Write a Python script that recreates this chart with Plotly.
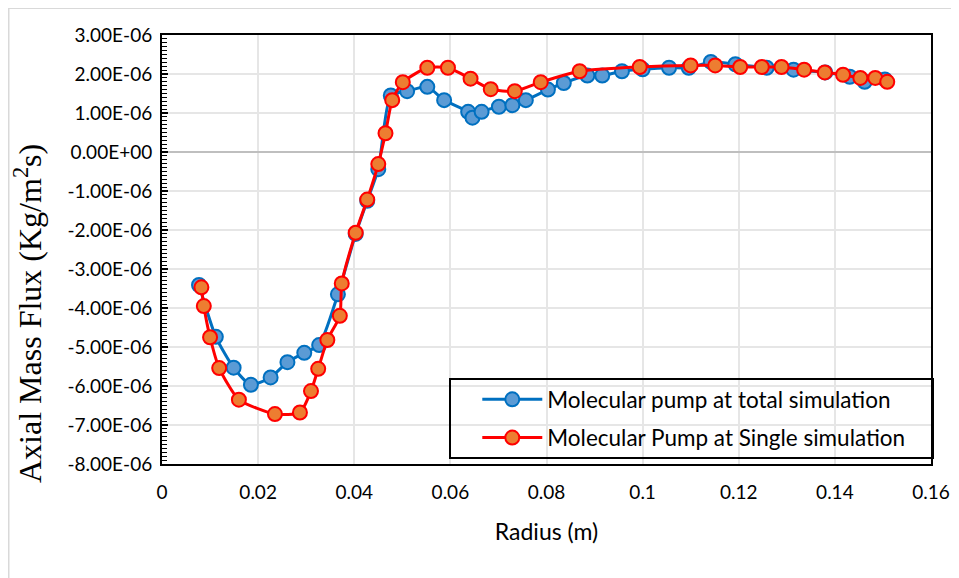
import plotly.graph_objects as go

# ---- data ----
radius_total = [0.0077, 0.0112, 0.0149, 0.0185, 0.0226, 0.0261, 0.0296, 0.0327, 0.0366,
                0.0403, 0.0427, 0.0450, 0.0476, 0.0510, 0.0552, 0.0587, 0.0637, 0.0646,
                0.0665, 0.0701, 0.0729, 0.0757, 0.0803, 0.0836, 0.0885, 0.0916, 0.0957,
                0.1000, 0.1055, 0.1096, 0.1142, 0.1193, 0.1258, 0.1314, 0.1380, 0.1431,
                0.1462, 0.1504]
flux_total = [-3.41e-6, -4.74e-6, -5.53e-6, -5.97e-6, -5.78e-6, -5.39e-6, -5.15e-6, -4.95e-6,
              -3.65e-6, -2.10e-6, -1.25e-6, -0.44e-6, 1.45e-6, 1.56e-6, 1.67e-6, 1.33e-6,
              1.03e-6, 0.88e-6, 1.03e-6, 1.16e-6, 1.20e-6, 1.33e-6, 1.60e-6, 1.77e-6,
              1.96e-6, 1.96e-6, 2.07e-6, 2.12e-6, 2.16e-6, 2.16e-6, 2.31e-6, 2.25e-6,
              2.16e-6, 2.11e-6, 2.04e-6, 1.93e-6, 1.80e-6, 1.86e-6]

radius_single = [0.0082, 0.0087, 0.0100, 0.0119, 0.0160, 0.0235, 0.0287, 0.0310, 0.0325,
                 0.0344, 0.0370, 0.0374, 0.0403, 0.0427, 0.0450, 0.0465, 0.0479, 0.0501,
                 0.0552, 0.0595, 0.0642, 0.0684, 0.0734, 0.0788, 0.0869, 0.0994, 0.1100,
                 0.1151, 0.1203, 0.1248, 0.1289, 0.1336, 0.1379, 0.1417, 0.1453, 0.1484,
                 0.1509]
flux_single = [-3.47e-6, -3.95e-6, -4.75e-6, -5.54e-6, -6.35e-6, -6.72e-6, -6.68e-6, -6.13e-6,
               -5.56e-6, -4.82e-6, -4.20e-6, -3.37e-6, -2.07e-6, -1.22e-6, -0.31e-6, 0.48e-6,
               1.33e-6, 1.79e-6, 2.16e-6, 2.16e-6, 1.88e-6, 1.61e-6, 1.56e-6, 1.79e-6,
               2.07e-6, 2.18e-6, 2.22e-6, 2.22e-6, 2.18e-6, 2.18e-6, 2.18e-6, 2.11e-6,
               2.04e-6, 1.98e-6, 1.90e-6, 1.90e-6, 1.80e-6]

series_names = ["Molecular pump at total simulation", "Molecular Pump at Single simulation"]

y_tick_values = [3e-6, 2e-6, 1e-6, 0.0, -1e-6, -2e-6, -3e-6, -4e-6, -5e-6, -6e-6, -7e-6, -8e-6]
x_tick_values = [0, 0.02, 0.04, 0.06, 0.08, 0.1, 0.12, 0.14, 0.16]
x_tick_labels = ["0", "0.02", "0.04", "0.06", "0.08", "0.1", "0.12", "0.14", "0.16"]

x_title = "Radius (m)"
y_title = "Axial Mass Flux (Kg/m<sup>2</sup>s)"


def excel_sci(v):
    if v == 0:
        return "0.00E+00"
    s = f"{v:.2E}"
    mant, exp = s.split("E")
    sign = exp[0]
    return f"{mant}E{sign}{abs(int(exp)):02d}"


y_tick_labels = [excel_sci(v) for v in y_tick_values]

SANS = "Lato, Open Sans, sans-serif"
TICK_FONT = dict(family=SANS, size=19, color="#000000")

fig = go.Figure()
fig.add_trace(go.Scatter(
    x=radius_total, y=flux_total, mode="lines+markers", name=series_names[0],
    line=dict(color="#0070C0", width=3, shape="spline", smoothing=0.6),
    marker=dict(size=14, color="#5B9BD5", line=dict(color="#0070C0", width=2)),
    legendgroup="g1",
))
fig.add_trace(go.Scatter(
    x=radius_single, y=flux_single, mode="lines+markers", name=series_names[1],
    line=dict(color="#FF0000", width=3, shape="spline", smoothing=0.6),
    marker=dict(size=14, color="#ED7D31", line=dict(color="#FF0000", width=2)),
    legendgroup="g2",
))

# page body adds an 8px offset; margins compensate so the plot area lands
# at x 162..931, y 35..464 on screen
L, R, T, B = 154, 36, 27, 122
fig.update_layout(
    width=959, height=578,
    margin=dict(l=L, r=R, t=T, b=B),
    paper_bgcolor="white", plot_bgcolor="white",
    legend=dict(
        bgcolor="rgba(0,0,0,0)", borderwidth=0,
        font=dict(family=SANS, size=22.5, color="#000000"),
        xanchor="left", yanchor="top", x=0.41, y=0.20,
        tracegroupgap=6, itemwidth=60, traceorder="grouped",
    ),
    xaxis=dict(
        range=[0, 0.16], tickvals=x_tick_values, ticktext=x_tick_labels,
        showgrid=True, gridcolor="#E6E6E6", gridwidth=1.5,
        showline=True, linecolor="#000000", linewidth=2, mirror=True,
        ticks="", tickfont=TICK_FONT, zeroline=False, ticklabelstandoff=10,
        title=dict(text=x_title, font=dict(family=SANS, size=23, color="#000000"), standoff=22),
    ),
    yaxis=dict(
        range=[-8e-6, 3e-6], tickvals=y_tick_values, ticktext=y_tick_labels,
        showgrid=True, gridcolor="#E6E6E6", gridwidth=1.5,
        showline=True, linecolor="#000000", linewidth=2, mirror=True,
        ticks="inside", ticklen=6, tickcolor="#000000", tickwidth=1.5,
        minor=dict(dtick=1e-7, ticks="inside", ticklen=5, tickcolor="#000000", tickwidth=1, showgrid=False),
        zeroline=True, zerolinecolor="#BFBFBF", zerolinewidth=2,
        tickfont=TICK_FONT, ticklabelstandoff=4,
    ),
)

pw, ph = 959 - L - R, 578 - T - B


def px_x(x):
    return (x - L) / pw


def px_y(y):
    return (578 - B - y) / ph


# y-axis title (placed lower than centre, as in the reference)
fig.add_annotation(text=y_title, xref="paper", yref="paper",
                   x=px_x(20), y=px_y(306), xanchor="center", yanchor="middle",
                   textangle=-90, showarrow=False,
                   font=dict(family="Liberation Serif, Times New Roman, serif", size=32, color="#000000"))

# legend box (figure pixel coords -> paper): white fill below, black frame above
fig.add_shape(type="rect", xref="paper", yref="paper",
              x0=px_x(442), x1=px_x(925), y0=px_y(450), y1=px_y(371),
              line=dict(width=0), fillcolor="white", layer="below")
fig.add_shape(type="rect", xref="paper", yref="paper",
              x0=px_x(442), x1=px_x(925), y0=px_y(450), y1=px_y(371),
              line=dict(color="#000000", width=2), fillcolor="rgba(0,0,0,0)", layer="above")
# outer chart border: only top and left edges are visible in the reference
fig.add_shape(type="line", xref="paper", yref="paper",
              x0=px_x(0.5), x1=px_x(980), y0=px_y(0), y1=px_y(0),
              line=dict(color="#D9D9D9", width=2))
fig.add_shape(type="line", xref="paper", yref="paper",
              x0=px_x(0.5), x1=px_x(0.5), y0=px_y(0), y1=px_y(600),
              line=dict(color="#D9D9D9", width=2))

fig.write_html("out.html")
